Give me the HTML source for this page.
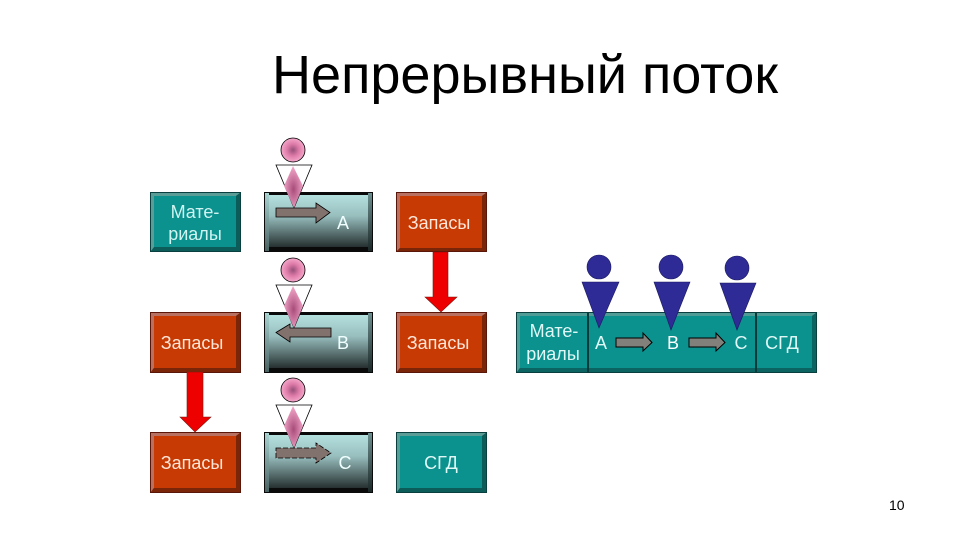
<!DOCTYPE html>
<html><head><meta charset="utf-8"><style>html,body{margin:0;padding:0;background:#fff}svg{display:block}text{font-family:"Liberation Sans",sans-serif}</style></head><body>
<svg width="960" height="540" viewBox="0 0 960 540" xmlns="http://www.w3.org/2000/svg">
<defs>
<linearGradient id="g" x1="0" y1="0" x2="0" y2="1"><stop offset="0" stop-color="#b4e0de"/><stop offset=".4" stop-color="#98bebe"/><stop offset=".75" stop-color="#566c6c"/><stop offset="1" stop-color="#263030"/></linearGradient>
<linearGradient id="gl" x1="0" y1="0" x2="0" y2="1"><stop offset="0" stop-color="#a8d4d2"/><stop offset="1" stop-color="#4a6262"/></linearGradient>
<linearGradient id="gr" x1="0" y1="0" x2="0" y2="1"><stop offset="0" stop-color="#6c8e8e"/><stop offset="1" stop-color="#1c2828"/></linearGradient>
<radialGradient id="p"><stop offset="0" stop-color="#96507a"/><stop offset=".5" stop-color="#de7aa8"/><stop offset="1" stop-color="#f4a8ca"/></radialGradient>
<radialGradient id="d" cx=".5" cy=".55" r=".55"><stop offset="0" stop-color="#a84c7a"/><stop offset="1" stop-color="#f4a8ca"/></radialGradient>
</defs>
<text x="272" y="93" font-size="54" fill="#000" textLength="506" lengthAdjust="spacingAndGlyphs">Непрерывный поток</text>

<g><rect x="150" y="192" width="91" height="60" fill="#0a3f3f"/><polygon points="151,193 240,193 236,196 154,196 154,248 151,251" fill="#5a9c96"/><polygon points="240,193 240,251 151,251 154,247 236,247 236,196" fill="#0c5c5a"/><rect x="154" y="196" width="82" height="51" fill="#0b918e"/></g>
<text x="195" y="218" font-size="18" fill="#cff4f2" text-anchor="middle">Мате-</text>
<text x="195" y="240" font-size="18" fill="#cff4f2" text-anchor="middle">риалы</text>

<g><rect x="396" y="192" width="91" height="60" fill="#5a1608"/><polygon points="397,193 486,193 482,196 400,196 400,248 397,251" fill="#b87060"/><polygon points="486,193 486,251 397,251 400,248 482,248 482,196" fill="#7a2408"/><rect x="400" y="196" width="82" height="52" fill="#c83a04"/></g>
<text x="439" y="229" font-size="18" fill="#ffe6d8" text-anchor="middle">Запасы</text>
<g><rect x="396" y="312" width="91" height="61" fill="#5a1608"/><polygon points="397,313 486,313 482,316 400,316 400,368 397,372" fill="#b87060"/><polygon points="486,313 486,372 397,372 400,368 482,368 482,316" fill="#7a2408"/><rect x="400" y="316" width="82" height="52" fill="#c83a04"/></g>
<text x="438" y="349" font-size="18" fill="#ffe6d8" text-anchor="middle">Запасы</text>
<g><rect x="150" y="312" width="91" height="61" fill="#5a1608"/><polygon points="151,313 240,313 236,316 154,316 154,368 151,372" fill="#b87060"/><polygon points="240,313 240,372 151,372 154,368 236,368 236,316" fill="#7a2408"/><rect x="154" y="316" width="82" height="52" fill="#c83a04"/></g>
<text x="192" y="349" font-size="18" fill="#ffe6d8" text-anchor="middle">Запасы</text>
<g><rect x="150" y="432" width="91" height="61" fill="#5a1608"/><polygon points="151,433 240,433 236,436 154,436 154,488 151,492" fill="#b87060"/><polygon points="240,433 240,492 151,492 154,488 236,488 236,436" fill="#7a2408"/><rect x="154" y="436" width="82" height="52" fill="#c83a04"/></g>
<text x="192" y="469" font-size="18" fill="#ffe6d8" text-anchor="middle">Запасы</text>

<g><rect x="396" y="432" width="91" height="61" fill="#0a3f3f"/><polygon points="397,433 486,433 482,436 400,436 400,488 397,492" fill="#5a9c96"/><polygon points="486,433 486,492 397,492 400,488 482,488 482,436" fill="#0c5c5a"/><rect x="400" y="436" width="82" height="52" fill="#0b918e"/></g>
<text x="441" y="469" font-size="18" fill="#dff8f6" text-anchor="middle">СГД</text>

<g><rect x="264" y="192" width="109" height="60" fill="#0a0a0a"/><rect x="265" y="193" width="4" height="58" fill="url(#gl)"/><rect x="368" y="193" width="4" height="58" fill="url(#gr)"/><rect x="269" y="195" width="99" height="52" fill="url(#g)"/></g>
<text x="343" y="229" font-size="18" fill="#f0ffff" text-anchor="middle">A</text>
<g><rect x="264" y="312" width="109" height="61" fill="#0a0a0a"/><rect x="265" y="313" width="4" height="59" fill="url(#gl)"/><rect x="368" y="313" width="4" height="59" fill="url(#gr)"/><rect x="269" y="315" width="99" height="53" fill="url(#g)"/></g>
<text x="343" y="349" font-size="18" fill="#f0ffff" text-anchor="middle">B</text>
<g><rect x="264" y="432" width="109" height="61" fill="#0a0a0a"/><rect x="265" y="433" width="4" height="59" fill="url(#gl)"/><rect x="368" y="433" width="4" height="59" fill="url(#gr)"/><rect x="269" y="435" width="99" height="53" fill="url(#g)"/></g>
<text x="345" y="469" font-size="18" fill="#f0ffff" text-anchor="middle">C</text>

<g stroke="#000" stroke-width=".8"><circle cx="293" cy="150" r="12" fill="url(#p)"/><polygon points="276,165 312,165 294,208" fill="#fff"/><polygon points="293,166 303,186 294,208 284,186" fill="url(#d)" stroke="none"/><polygon points="276,208 316,208 316,203 330,212.500 316,223 316,217 276,217" fill="#82726e"/></g>
<g stroke="#000" stroke-width=".8"><circle cx="293" cy="270" r="12" fill="url(#p)"/><polygon points="276,285 312,285 294,328" fill="#fff"/><polygon points="293,286 303,306 294,328 284,306" fill="url(#d)" stroke="none"/><polygon points="276,332.500 290,324 290,328 331,328 331,337 290,337 290,342" fill="#82726e"/></g>
<g stroke="#000" stroke-width=".8"><circle cx="293" cy="390" r="12" fill="url(#p)"/><polygon points="276,405 312,405 294,448" fill="#fff"/><polygon points="293,406 303,426 294,448 284,426" fill="url(#d)" stroke="none"/><polygon points="276,448 316,448 316,443 331,453 316,463 316,458 276,458" fill="#82726e" stroke-dasharray="5 2"/></g>

<polygon points="433,252 448,252 448,297 457,297 441,312 425,297 433,297" fill="#ee0000" stroke="#7a1a10" stroke-width=".6"/>
<polygon points="187,372 203,372 203,417 211,417 195,432 180,417 187,417" fill="#ee0000" stroke="#7a1a10" stroke-width=".6"/>

<rect x="516" y="312" width="301" height="61" fill="#0a3f3f"/>
<polygon points="517,313 816,313 812,316 520,316 520,368 517,372" fill="#4f9c96"/>
<polygon points="816,313 816,372 517,372 520,368 812,368 812,316" fill="#0c6462"/>
<rect x="520" y="316" width="292" height="52" fill="#0b918e"/>
<rect x="587" y="313" width="2" height="60" fill="#0a3a3a"/>
<rect x="755" y="313" width="2" height="60" fill="#0a3a3a"/>
<text x="554" y="337" font-size="18" fill="#dff8f6" text-anchor="middle">Мате-</text>
<text x="553" y="360" font-size="18" fill="#dff8f6" text-anchor="middle">риалы</text>
<text x="601" y="349" font-size="18" fill="#dff8f6" text-anchor="middle">A</text>
<text x="673" y="349" font-size="18" fill="#fff" text-anchor="middle">B</text>
<text x="741" y="349" font-size="18" fill="#dff8f6" text-anchor="middle">C</text>
<text x="782" y="349" font-size="18" fill="#dff8f6" text-anchor="middle">СГД</text>

<g fill="#2e2a96" stroke="#1a1a60" stroke-width=".6">
<circle cx="599" cy="267" r="12"/><polygon points="582,282 619,282 599,328"/>
<circle cx="671" cy="267" r="12"/><polygon points="654,282 690,282 671,330"/>
<circle cx="737" cy="268" r="12"/><polygon points="720,283 756,283 737,330"/>
</g>
<g fill="#82807a" stroke="#000" stroke-width="1">
<polygon points="616,338 643,338 643,333 652,342.500 643,351 643,347 616,347"/>
<polygon points="689,338 716,338 716,333 725,342.500 716,351 716,347 689,347"/>
</g>
<text x="889" y="510" font-size="14" fill="#000">10</text>
</svg>
</body></html>
